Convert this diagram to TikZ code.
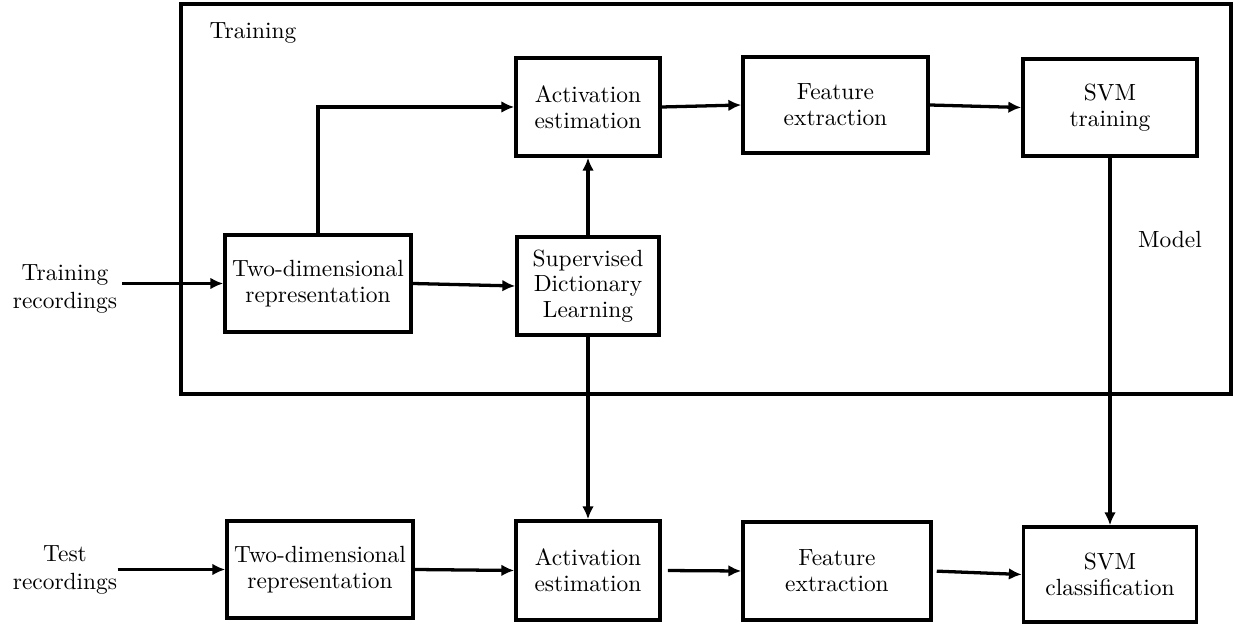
\documentclass[tikz,border=0pt]{standalone}
\usetikzlibrary{arrows.meta}
\newlength\pxu
\setlength\pxu{0.427pt}
\begin{document}
\begin{tikzpicture}[x=0.427pt,y=-0.427pt,
  blk/.style 2 args={draw, line width=1.5pt, minimum width={#1*\pxu},
    minimum height={#2*\pxu}, inner sep=0pt, align=center,
    font=\fontsize{10}{11}\selectfont},
  flow/.style={line width=1.4pt, -{Latex[length=5.5pt,width=5pt]}},
  lbl/.style={align=center, inner sep=0pt}]
\useasboundingbox (0,0) rectangle (1235,624);

% training frame
\node[blk={1050}{390}] (frame) at (706,199) {};
\node[lbl] (trainlbl) at (253,33) {Training};
\node[lbl] (model) at (1170,240) {Model};

% inputs
\node[lbl, inner xsep=2pt] (trrec) at (65,289) {Training\\recordings};
\node[lbl] (terec) at (65,570) {Test\\recordings};

% training branch
\node[blk={186}{97}] (twoA) at (318,283.5) {Two-dimensional\\representation};
\node[blk={142}{98}] (sdl) at (588,286) {Supervised\\Dictionary\\Learning};
\node[blk={144}{98}] (actA) at (588,107) {Activation\\estimation};
\node[blk={185}{96}] (featA) at (835.5,105) {Feature\\extraction};
\node[blk={174}{97}] (svmA) at (1110,107.5) {SVM\\training};

% test branch
\node[blk={186}{97}] (twoB) at (320,569.5) {Two-dimensional\\representation};
\node[blk={144}{99}] (actB) at (588,570.5) {Activation\\estimation};
\node[blk={188}{98}] (featB) at (837,571) {Feature\\extraction};
\node[blk={173}{95}] (svmB) at (1110,574.5) {SVM\\classification};

% connectors
\draw[flow] (trrec.east |- twoA.west) -- (twoA.west);
\draw[flow] (twoA.north) |- (actA.west);
\draw[flow] (twoA.east) -- (sdl.west);
\draw[flow] (sdl.north) -- (actA.south);
\draw[flow] (actA.east) -- (featA.west);
\draw[flow] (featA.east) -- (svmA.west);
\draw[flow] (svmA.south) -- (svmB.north);
\draw[flow] (sdl.south) -- (actB.north);

\draw[flow] (terec.east |- twoB.west) -- (twoB.west);
\draw[flow] (twoB.east) -- (actB.west);
\draw[flow, shorten <=6\pxu] (actB.east) -- (featB.west);
\draw[flow, shorten <=4\pxu] (featB.east) -- (svmB.west);
\end{tikzpicture}
\end{document}
